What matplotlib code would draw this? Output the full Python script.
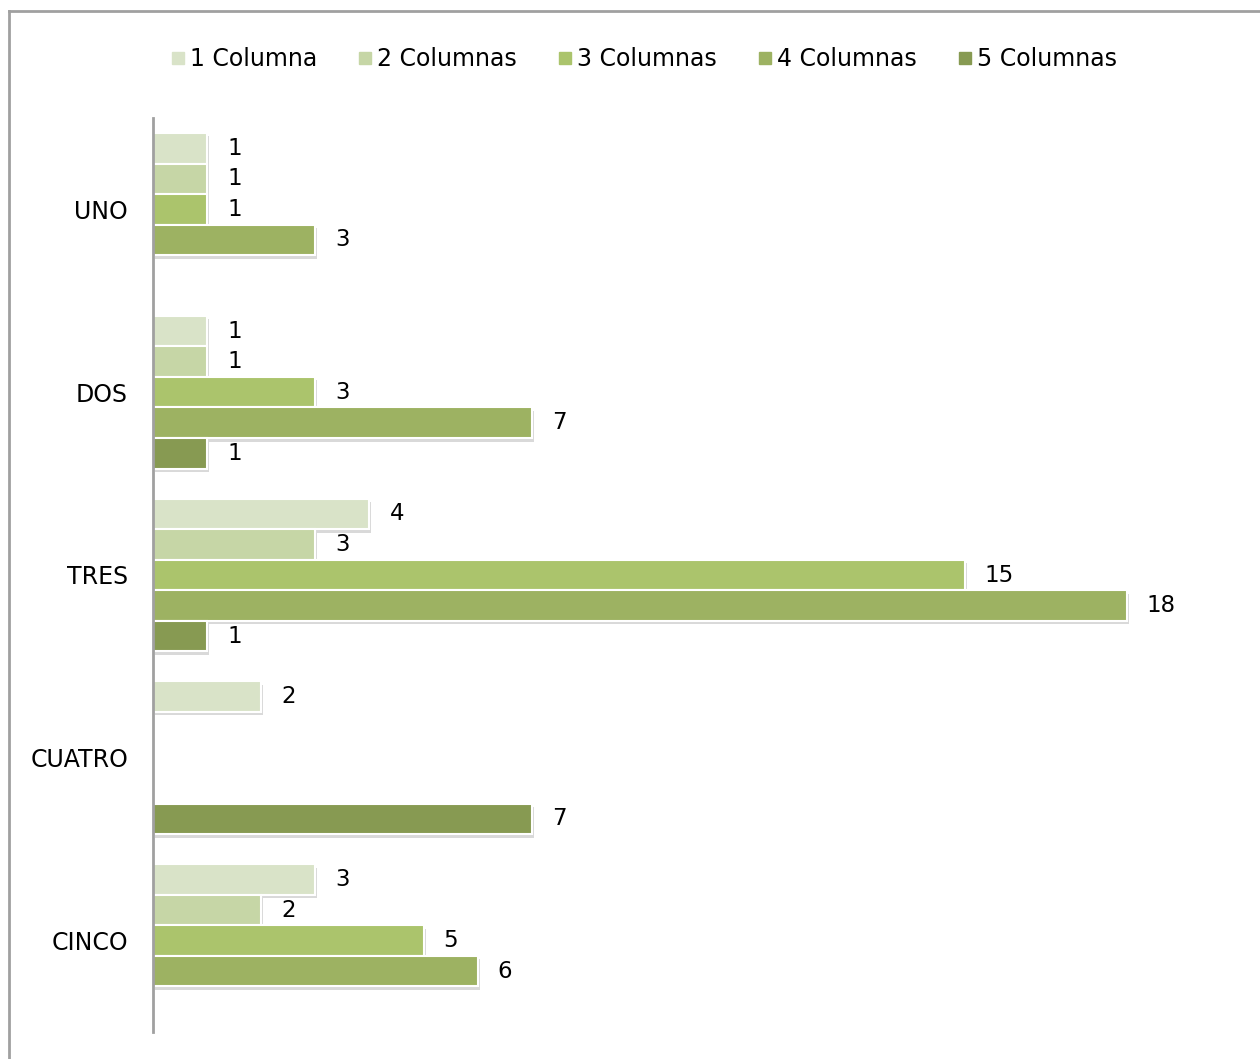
import matplotlib
matplotlib.use("Agg")
import matplotlib.pyplot as plt
import matplotlib.patheffects as pe
from matplotlib.lines import Line2D
import numpy as np

categories = ["UNO", "DOS", "TRES", "CUATRO", "CINCO"]
series_names = ["1 Columna", "2 Columnas", "3 Columnas", "4 Columnas", "5 Columnas"]
s1 = [1, 1, 4, 2, 3]
s2 = [1, 1, 3, None, 2]
s3 = [1, 3, 15, None, 5]
s4 = [3, 7, 18, None, 6]
s5 = [None, 1, 1, 7, None]
series = [s1, s2, s3, s4, s5]
colors = ["#d9e3c8", "#c6d6a6", "#abc46c", "#9db262", "#879a52"]

plt.rcParams['font.family'] = ['DejaVu Sans']
fig = plt.figure(figsize=(12.6, 10.59), dpi=100)
W, H = 1260, 1059
ax = fig.add_axes([153 / W, 1 - 1032 / H, (20 * 54.1) / W, (1032 - 118) / H])

bh = 30.6 / 183
ypos = np.arange(len(categories))
shadow = [pe.SimplePatchShadow(offset=(1.5, -2.5), shadow_rgbFace="#000000", alpha=0.15),
          pe.Normal()]
for i, (vals, col) in enumerate(zip(series, colors)):
    for j, v in enumerate(vals):
        if v is None:
            continue
        y = ypos[j] + (i - 2) * bh
        ax.barh(y, v, height=bh, color=col, edgecolor="white", linewidth=1.5,
                path_effects=shadow, zorder=2)
        ax.annotate(str(v), (v, y), xytext=(20, 0), textcoords="offset pixels",
                    ha="left", va="center", fontsize=16.5, color="black")

ax.set_xlim(0, 20)
ax.set_ylim(len(categories) - 0.5, -0.5)
ax.set_yticks(ypos)
ax.set_yticklabels(categories, fontsize=17)
ax.tick_params(axis="y", length=0, pad=18)
ax.set_xticks([])
for s in ["top", "right", "bottom"]:
    ax.spines[s].set_visible(False)
ax.spines["left"].set_color("#a0a0a0")
ax.spines["left"].set_linewidth(2)

handles = [Line2D([0], [0], marker="s", linestyle="none", markersize=8.5,
                  markerfacecolor=c, markeredgecolor=c) for c in colors]
fig.legend(handles, series_names, loc="center", bbox_to_anchor=(0.511, 1 - 59 / H),
           ncol=5, frameon=False, fontsize=17, handlelength=0.6,
           handletextpad=0.2, columnspacing=1.75)

# outer border
fig.add_artist(Line2D([8.5 / W, 8.5 / W], [0, 1 - 10.5 / H], transform=fig.transFigure,
                      color="#a0a0a0", linewidth=2))
fig.add_artist(Line2D([8.5 / W, 1], [1 - 10.5 / H, 1 - 10.5 / H], transform=fig.transFigure,
                      color="#a0a0a0", linewidth=2))

fig.savefig("out.png", dpi=100, facecolor="white")
